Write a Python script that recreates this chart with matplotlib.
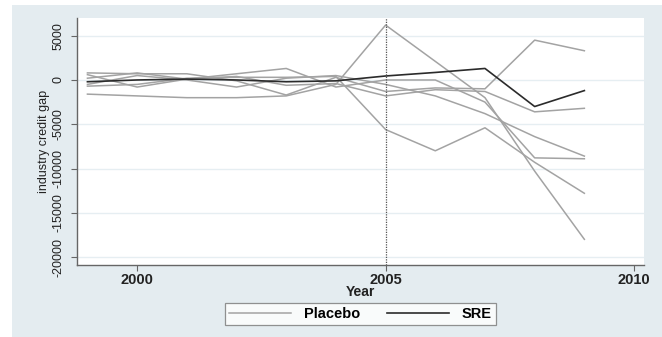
import numpy as np
import matplotlib
matplotlib.use('Agg')
import matplotlib.pyplot as plt
from matplotlib.patches import Rectangle
from matplotlib.lines import Line2D

plt.rcParams['font.family'] = ['Liberation Sans', 'DejaVu Sans']

#data
years = [1999, 2000, 2001, 2002, 2003, 2004, 2005, 2006, 2007, 2008, 2009]
placebo_1 = [800, 700, 700, -100, -1700, 300, -1300, -900, -1000, 4500, 3300]
placebo_2 = [-1600, -1800, -2000, -2000, -1800, -500, 6200, 2100, -2000, -10300, -18000]
placebo_3 = [200, 800, 100, 700, 1300, -800, 0, 0, -2500, -8800, -8900]
placebo_4 = [-700, -500, 200, 300, 300, 400, -5600, -8000, -5400, -9300, -12800]
placebo_5 = [-500, 500, 0, -800, 200, 500, -500, -1800, -3800, -6400, -8600]
placebo_6 = [600, -800, 100, 400, -600, -400, -1800, -1100, -1300, -3600, -3200]
sre = [-200, 0, 100, 0, -200, -100, 450, 850, 1300, -3000, -1200]
placebos = [placebo_1, placebo_2, placebo_3, placebo_4, placebo_5, placebo_6]

xticks = [2000, 2005, 2010]
yticks = [5000, 0, -5000, -10000, -15000, -20000]

bg = '#e4ecf0'
fig = plt.figure(figsize=(6.62, 3.37), dpi=100)
fig.patch.set_facecolor('white')
fig.patches.append(Rectangle((12/662, 0), 1, 1 - 5/337, transform=fig.transFigure,
                             facecolor=bg, edgecolor='none', zorder=-10))

ax = fig.add_axes([77/662, 72/337, 567/662, 247/337])
ax.set_facecolor('white')

for p in placebos:
    ax.plot(years, p, color='#a3a3a3', lw=1.1, zorder=2)
ax.plot(years, sre, color='#2b2b2b', lw=1.2, zorder=3)

ax.axvline(2005, color='#555555', lw=0.9, linestyle=(0, (1, 1)), zorder=4)

ax.set_xlim(1998.79, 2010.2)
ax.set_ylim(-20900, 7000)
ax.set_xticks(xticks)
ax.set_yticks(yticks)
ax.set_xticklabels([str(t) for t in xticks], fontsize=10.5, fontweight='bold', color='#222222')
ax.set_yticklabels([str(t) for t in yticks], fontsize=9, rotation=90, va='center', color='#222222')
ax.yaxis.grid(True, color='#e6eef2', lw=1)
ax.set_axisbelow(True)
for s in ['top', 'right']:
    ax.spines[s].set_visible(False)
for s in ['left', 'bottom']:
    ax.spines[s].set_color('#666666')
    ax.spines[s].set_linewidth(1.0)
ax.tick_params(axis='both', direction='out', length=4, color='#666666', pad=2)
ax.tick_params(axis='y', pad=5)

ax.set_xlabel('Year', fontsize=10, fontweight='bold', color='#222222', labelpad=-2)
ax.set_ylabel('industry credit gap', fontsize=9, color='#222222', labelpad=2)

handles = [Line2D([], [], color='#a3a3a3', lw=1.1), Line2D([], [], color='#2b2b2b', lw=1.2)]
leg = fig.legend(handles, ['Placebo', 'SRE'], loc='center', bbox_to_anchor=(360.5/662, 23/337),
                 ncol=2, frameon=True, fancybox=False, handlelength=4.25, handletextpad=0.9,
                 columnspacing=1.8, prop={'size': 10.5, 'weight': 'bold'}, borderpad=0.3,
                 borderaxespad=0)
leg.get_frame().set_edgecolor('#777777')
leg.get_frame().set_linewidth(0.9)

fig.savefig('out.png', dpi=100, facecolor=fig.get_facecolor())
